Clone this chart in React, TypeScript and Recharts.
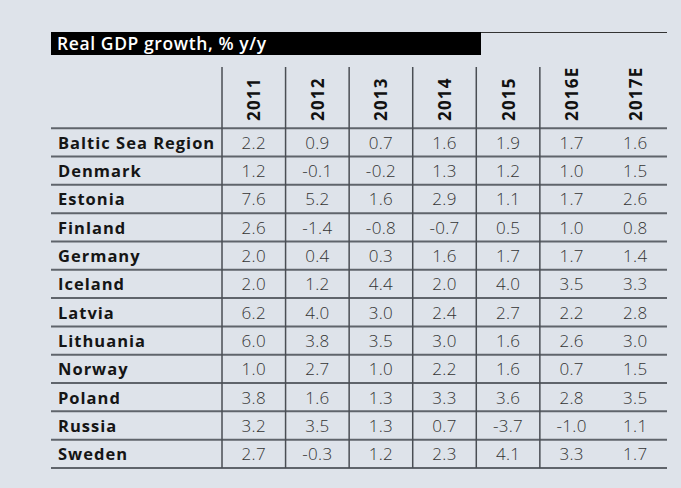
import { ScatterChart, Scatter, XAxis, YAxis, ReferenceLine } from "recharts";

const years = ["2011", "2012", "2013", "2014", "2015", "2016E", "2017E"];
const countries = [
  "Baltic Sea Region",
  "Denmark",
  "Estonia",
  "Finland",
  "Germany",
  "Iceland",
  "Latvia",
  "Lithuania",
  "Norway",
  "Poland",
  "Russia",
  "Sweden",
];

const balticSeaRegion = [2.2, 0.9, 0.7, 1.6, 1.9, 1.7, 1.6];
const denmark = [1.2, -0.1, -0.2, 1.3, 1.2, 1.0, 1.5];
const estonia = [7.6, 5.2, 1.6, 2.9, 1.1, 1.7, 2.6];
const finland = [2.6, -1.4, -0.8, -0.7, 0.5, 1.0, 0.8];
const germany = [2.0, 0.4, 0.3, 1.6, 1.7, 1.7, 1.4];
const iceland = [2.0, 1.2, 4.4, 2.0, 4.0, 3.5, 3.3];
const latvia = [6.2, 4.0, 3.0, 2.4, 2.7, 2.2, 2.8];
const lithuania = [6.0, 3.8, 3.5, 3.0, 1.6, 2.6, 3.0];
const norway = [1.0, 2.7, 1.0, 2.2, 1.6, 0.7, 1.5];
const poland = [3.8, 1.6, 1.3, 3.3, 3.6, 2.8, 3.5];
const russia = [3.2, 3.5, 1.3, 0.7, -3.7, -1.0, 1.1];
const sweden = [2.7, -0.3, 1.2, 2.3, 4.1, 3.3, 1.7];

const rows = [
  balticSeaRegion, denmark, estonia, finland, germany, iceland,
  latvia, lithuania, norway, poland, russia, sweden,
];

// cells sit at the middle of each band, grid lines at the band edges
const cells = rows.flatMap((vals, r) =>
  vals.map((v, c) => ({ x: c + 0.5, y: r + 0.5, v }))
);

// label column and header band, measured in column / row units
const LABEL_COLS = 2.69;
const HEADER_ROWS = 2.16;

const BG = "#dee3ea";
const FONT = "'Open Sans', sans-serif";

const colTicks = years.map((_, i) => i + 0.5);
const rowTicks = countries.map((_, i) => i + 0.5);
const colEdges = years.slice(0, -1).map((_, i) => i);
const rowEdges = countries.map((_, i) => i).concat([countries.length]);

const yearTick = (props: any) => {
  const { x, payload } = props;
  const label = years[Math.floor(payload.value)];
  const by = 121;
  return (
    <text
      key={label}
      x={x}
      y={by}
      transform={`rotate(-90, ${x}, ${by})`}
      textAnchor="start"
      dominantBaseline="central"
      fontFamily={FONT}
      fontWeight={700}
      fontSize={17}
      letterSpacing={1.2}
      fill="#111"
    >
      {label}
    </text>
  );
};

const countryTick = (props: any) => {
  const { y, payload } = props;
  const label = countries[Math.floor(payload.value)];
  return (
    <text
      key={label}
      x={58}
      y={y}
      textAnchor="start"
      dominantBaseline="central"
      fontFamily={FONT}
      fontWeight={700}
      fontSize={16.5}
      letterSpacing={1}
      fill="#151515"
    >
      {label}
    </text>
  );
};

const cellText = (props: any) => {
  const { cx, cy, payload } = props;
  return (
    <text
      x={cx}
      y={cy}
      textAnchor="middle"
      dominantBaseline="central"
      fontFamily={FONT}
      fontWeight={300}
      fontSize={17}
      letterSpacing={0.3}
      fill="#333"
    >
      {payload.v.toFixed(1)}
    </text>
  );
};

export default function App() {
  return (
    <div
      style={{
        position: "absolute",
        left: 0,
        top: 0,
        width: 681,
        height: 488,
        background: BG,
        overflow: "hidden",
      }}
    >
      <div
        style={{
          position: "absolute",
          left: 51,
          top: 32,
          width: 430,
          height: 23,
          background: "#000",
          color: "#fff",
          fontFamily: FONT,
          fontWeight: 600,
          fontSize: 17.5,
          letterSpacing: 0.6,
          lineHeight: "23px",
          paddingLeft: 6,
          boxSizing: "border-box",
        }}
      >
        Real GDP growth, % y/y
      </div>
      <div
        style={{
          position: "absolute",
          left: 481,
          top: 32,
          width: 186,
          height: 0,
          borderTop: "1px solid #333",
        }}
      />
      <ScatterChart
        width={681}
        height={488}
        margin={{ top: 66, right: 14, bottom: 20, left: 50 }}
        style={{ position: "absolute", left: 0, top: 0 }}
      >
        <XAxis
          dataKey="x"
          type="number"
          orientation="top"
          height={1}
          domain={[-LABEL_COLS, years.length]}
          ticks={colTicks}
          interval={0}
          allowDataOverflow
          axisLine={false}
          tickLine={false}
          tick={yearTick}
        />
        <YAxis
          dataKey="y"
          type="number"
          width={1}
          domain={[-HEADER_ROWS, countries.length]}
          ticks={rowTicks}
          interval={0}
          reversed
          allowDataOverflow
          axisLine={false}
          tickLine={false}
          tick={countryTick}
        />
        {rowEdges.map((v) => (
          <ReferenceLine key={`h${v}`} y={v} stroke="#5f646b" strokeWidth={2} />
        ))}
        {colEdges.map((v) => (
          <ReferenceLine key={`v${v}`} x={v} stroke="#4a4e54" strokeWidth={1.5} />
        ))}
        <Scatter data={cells} shape={cellText} isAnimationActive={false} />
      </ScatterChart>
    </div>
  );
}
